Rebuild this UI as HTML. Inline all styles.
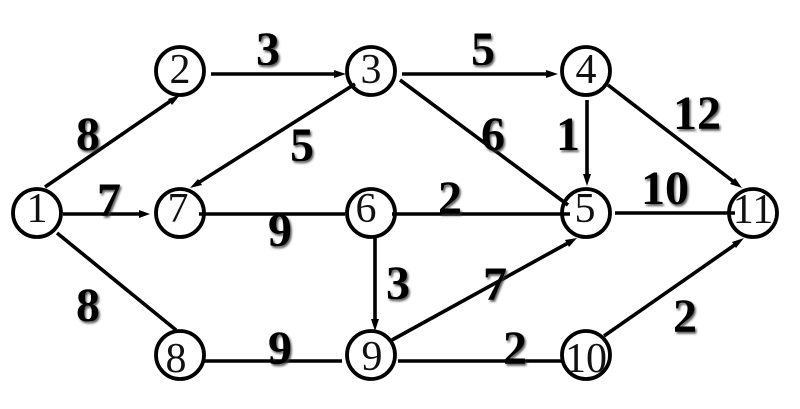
<!DOCTYPE html>
<html><head><meta charset="utf-8"><style>
html,body{margin:0;padding:0;background:#fff;width:800px;height:409px;overflow:hidden}
svg{display:block}
.n{font:400 42px "Liberation Serif",serif;text-anchor:middle;fill:#111}
.l{font:700 48px "Liberation Serif",serif;text-anchor:middle;fill:#000;filter:url(#s)}
circle{fill:#fff;stroke:#000;stroke-width:3.8}
line{stroke:#000;stroke-width:3.6}
polygon{fill:#000}
</style></head><body>
<svg width="800" height="409" viewBox="0 0 800 409" xmlns="http://www.w3.org/2000/svg">
<defs><filter id="s" x="-30%" y="-30%" width="170%" height="170%"><feDropShadow dx="1.5" dy="2" stdDeviation="1" flood-color="#333" flood-opacity=".8"/></filter></defs>
<g>
<circle cx="180" cy="71" r="24"/><circle cx="371" cy="71" r="24"/><circle cx="586" cy="71" r="24"/>
<circle cx="37" cy="213" r="24"/><circle cx="180" cy="213" r="24"/><circle cx="371" cy="213" r="24"/><circle cx="586" cy="213" r="24"/><circle cx="753" cy="213" r="24"/>
<circle cx="180" cy="355" r="24"/><circle cx="371" cy="355" r="24"/><circle cx="586" cy="355" r="24"/>
</g>
<g>
<line x1="211" y1="74" x2="336" y2="74"/><polygon points="346,74 334,70 334,78"/>
<line x1="402" y1="74" x2="548" y2="74"/><polygon points="558,74 546,70 546,78"/>
<line x1="45" y1="187" x2="172" y2="100"/><polygon points="180,95 168,99 172,105"/>
<line x1="355" y1="84" x2="198" y2="183"/><polygon points="190,188 202,185 198,179"/>
<line x1="63" y1="214" x2="141" y2="214"/><polygon points="150,214 139,210 139,218"/>
<line x1="199" y1="214" x2="345" y2="214"/>
<line x1="392" y1="214" x2="570" y2="214"/>
<line x1="615" y1="213" x2="735" y2="213"/>
<line x1="57" y1="233" x2="176" y2="330"/>
<line x1="204" y1="361" x2="342" y2="361"/>
<line x1="398" y1="361" x2="562" y2="361"/>
<line x1="392" y1="340" x2="568" y2="243"/><polygon points="577,238 565,240 569,247"/>
<line x1="604" y1="336" x2="736" y2="244"/><polygon points="744,238 732,242 736,248"/>
<line x1="375" y1="238" x2="375" y2="320"/><polygon points="375,331 371,319 379,319"/>
<line x1="587" y1="100" x2="587" y2="176"/><polygon points="587,186 583,174 591,174"/>
<line x1="608" y1="85" x2="734" y2="182"/><polygon points="742,188 735,178 730,184"/>
<line x1="400" y1="80" x2="568" y2="205"/>
</g>
<g>
<text class="n" x="180" y="83">2</text><text class="n" x="371" y="83">3</text><text class="n" x="586" y="83">4</text>
<text class="n" x="37" y="222">1</text><text class="n" x="178" y="222">7</text><text class="n" x="366" y="222">6</text><text class="n" x="585" y="222">5</text><text class="n" x="753" y="223">11</text>
<text class="n" x="176" y="372">8</text><text class="n" x="372" y="370">9</text><text class="n" x="586" y="372">10</text>
</g>
<g>
<text class="l" x="268" y="65">3</text><text class="l" x="483" y="65">5</text>
<text class="l" x="88" y="150">8</text><text class="l" x="302" y="161">5</text>
<text class="l" x="493" y="150">6</text><text class="l" x="568" y="150">1</text><text class="l" x="697" y="129">12</text>
<text class="l" x="109" y="216">7</text><text class="l" x="450" y="214">2</text><text class="l" x="665" y="204">10</text>
<text class="l" x="280" y="246">9</text><text class="l" x="398" y="299">3</text><text class="l" x="495" y="300">7</text>
<text class="l" x="88" y="321">8</text><text class="l" x="685" y="332">2</text>
<text class="l" x="280" y="364">9</text><text class="l" x="515" y="364">2</text>
</g>
</svg>
</body></html>
